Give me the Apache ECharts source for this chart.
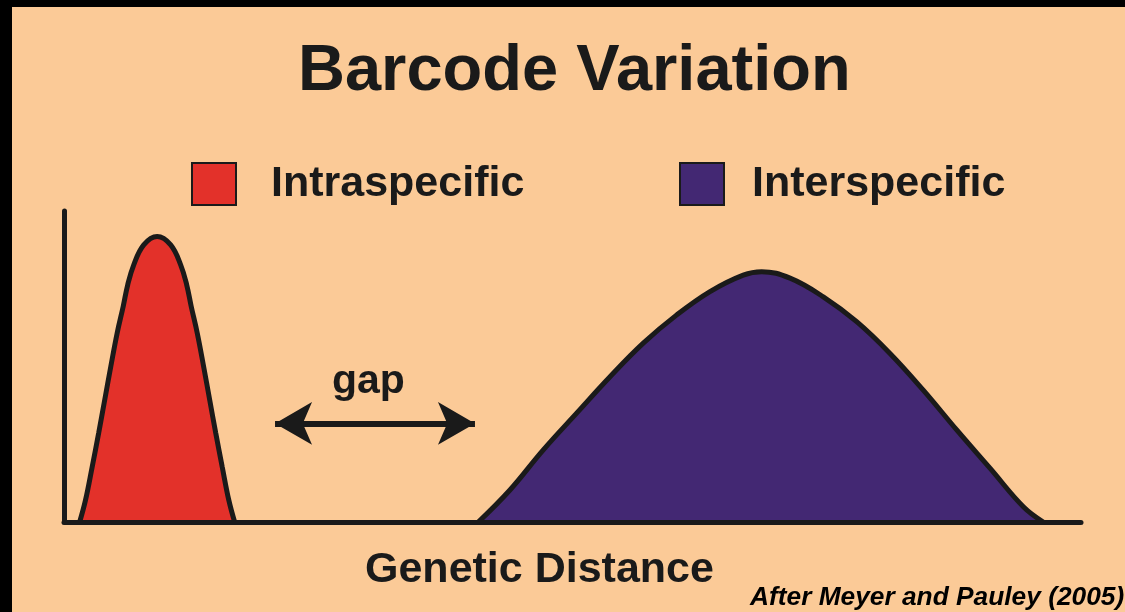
<!DOCTYPE html>
<html>
<head>
<meta charset="utf-8">
<script src="https://cdn.jsdelivr.net/npm/echarts@6/dist/echarts.min.js"></script>
<style>
  html, body { margin: 0; padding: 0; background: #000; }
  #chart { width: 1125px; height: 612px; }
</style>
</head>
<body>
<div id="chart"></div>
<script>
// ---- data (genetic distance on 0–100 scale, frequency on 0–100 scale) ----
const intraX = [1.54, 2.12, 2.77, 3.41, 4.00, 4.59, 5.23, 5.82, 6.26, 6.85, 7.84, 9.16, 10.49, 11.48, 12.07, 12.51, 13.10, 13.74, 14.33, 14.92, 15.56, 16.20, 16.78];
const intraY = [0, 7.1, 17.7, 28.6, 39.2, 49.8, 60.8, 69.3, 76.2, 82.6, 89.1, 91.8, 89.1, 82.6, 76.2, 69.3, 60.8, 49.8, 39.2, 28.6, 17.7, 7.1, 0];
const interX = [40.74, 43.85, 47.13, 50.41, 53.69, 56.96, 60.25, 63.52, 66.79, 68.60, 71.39, 74.66, 77.94, 81.22, 84.49, 87.78, 91.05, 94.33, 96.29];
const interY = [0, 10.3, 23.2, 35.0, 46.7, 57.5, 66.6, 74.1, 79.4, 80.5, 78.4, 72.4, 64.4, 54.2, 42.4, 29.6, 17.3, 4.9, 0];
const seriesNames = ['Intraspecific', 'Interspecific'];
const gapStart = 20.75, gapEnd = 40.41, gapLevel = 31.7;

const INK = '#1a1a1a';
const RED = '#E3312A';
const PURPLE = '#432873';
const BG = '#FBCA97';

const zip = (xs, ys) => xs.map((x, i) => [x, ys[i]]);

const chart = echarts.init(document.getElementById('chart'), null, { renderer: 'canvas' });

const legendItem = (name, color, left, gap) => ({
  left: left, top: 157,
  orient: 'horizontal',
  icon: 'rect',
  itemWidth: 44, itemHeight: 42,
  selectedMode: false,
  data: [{ name: name, itemStyle: { color: color, borderColor: INK, borderWidth: 2 } }],
  textStyle: { fontFamily: 'Liberation Sans', fontWeight: 'bold', fontSize: 43, color: INK, padding: [0, 0, 0, gap] }
});

chart.setOption({
  backgroundColor: BG,
  animation: false,
  title: [
    { text: 'Barcode Variation', left: 293, top: 35,
      textStyle: { fontFamily: 'Liberation Sans', fontWeight: 'bold', fontSize: 65, color: INK } },
    { text: 'gap', left: 327, top: 356,
      textStyle: { fontFamily: 'Liberation Sans', fontWeight: 'bold', fontSize: 41, color: INK } },
    { text: 'Genetic Distance', left: 360, top: 544,
      textStyle: { fontFamily: 'Liberation Sans', fontWeight: 'bold', fontSize: 43, color: INK } },
    { text: 'After Meyer and Pauley (2005)', left: 745, top: 580,
      textStyle: { fontFamily: 'Liberation Sans', fontWeight: 'bold', fontStyle: 'italic', fontSize: 26.3, color: '#000' } }
  ],
  legend: [ legendItem(seriesNames[0], RED, 186, 30), legendItem(seriesNames[1], PURPLE, 674, 23) ],
  graphic: [
    { type: 'rect', left: 0, top: 0, shape: { width: 1125, height: 7 }, style: { fill: '#000' }, z: 100 },
    { type: 'rect', left: 0, top: 0, shape: { width: 12, height: 612 }, style: { fill: '#000' }, z: 100 }
  ],
  grid: { left: 64, right: 44, top: 211, bottom: 90, containLabel: false },
  xAxis: {
    type: 'value', min: 0, max: 100, z: 5,
    axisLine: { show: true, onZero: false, lineStyle: { color: INK, width: 5 } },
    axisTick: { show: false }, axisLabel: { show: false }, splitLine: { show: false }
  },
  yAxis: {
    type: 'value', min: 0, max: 100, z: 5,
    axisLine: { show: true, lineStyle: { color: INK, width: 5 } },
    axisTick: { show: false }, axisLabel: { show: false }, splitLine: { show: false }
  },
  series: [
    {
      name: seriesNames[0], type: 'line', smooth: 0.4, showSymbol: false, silent: true,
      data: zip(intraX, intraY),
      itemStyle: { color: RED },
      lineStyle: { color: INK, width: 5 },
      areaStyle: { color: RED, opacity: 1 },
      markLine: {
        silent: true, symbol: ['arrow', 'arrow'], symbolSize: [32, 37],
        label: { show: false },
        lineStyle: { color: INK, width: 6, type: 'solid' },
        data: [[{ coord: [gapStart, gapLevel] }, { coord: [gapEnd, gapLevel] }]]
      }
    },
    {
      name: seriesNames[1], type: 'line', smooth: 0.4, showSymbol: false, silent: true,
      data: zip(interX, interY),
      itemStyle: { color: PURPLE },
      lineStyle: { color: INK, width: 5 },
      areaStyle: { color: PURPLE, opacity: 1 }
    }
  ]
});
</script>
</body>
</html>
